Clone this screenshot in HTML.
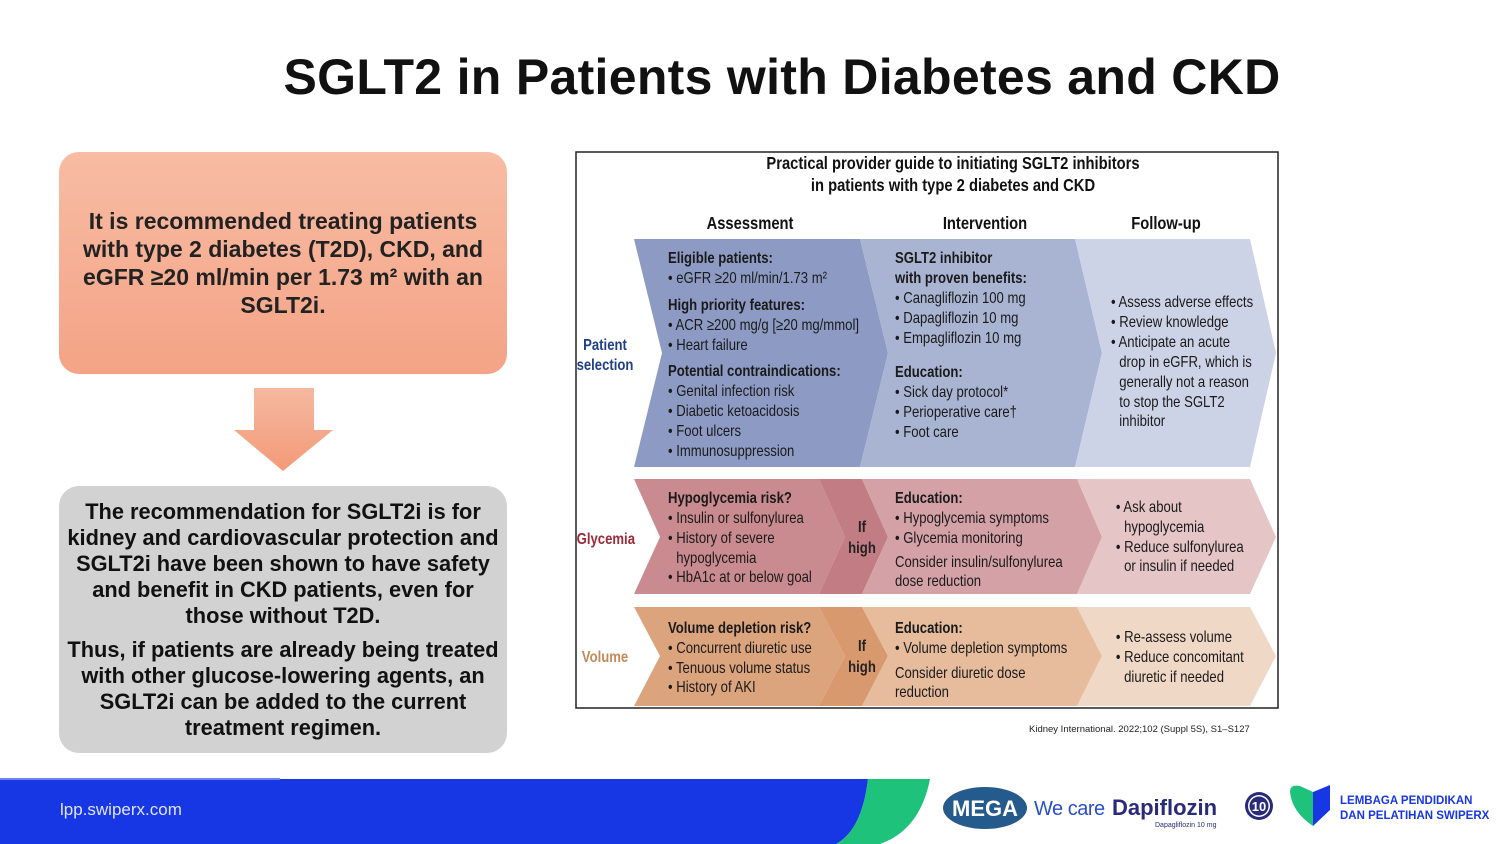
<!DOCTYPE html>
<html><head><meta charset="utf-8"><style>
*{margin:0;padding:0;box-sizing:border-box}
body{width:1500px;height:844px;overflow:hidden;background:#fff;position:relative;font-family:"Liberation Sans",sans-serif}
.title{position:absolute;left:0;width:1564px;top:48px;text-align:center;font-size:50px;font-weight:bold;color:#111;letter-spacing:0.3px}
.box1{position:absolute;left:59px;top:152px;width:448px;height:222px;border-radius:20px;background:linear-gradient(#f7bca3,#f4a386);display:flex;align-items:center;justify-content:center;text-align:center;font-size:23px;font-weight:bold;color:#222;line-height:28px;padding:0 18px}
.box2{position:absolute;left:59px;top:486px;width:448px;height:267px;border-radius:20px;background:#d2d2d2;text-align:center;font-size:21.8px;font-weight:bold;color:#111;line-height:26px;padding:13px 4px 0;letter-spacing:0}
.ref{position:absolute;left:1029px;top:724px;font-size:9.5px;color:#222}
.url{position:absolute;left:60px;top:800px;font-size:17px;color:#dfe4ff}
</style></head><body>
<div class="title">SGLT2 in Patients with Diabetes and CKD</div>
<div class="box1">It is recommended treating patients with type 2 diabetes (T2D), CKD, and eGFR ≥20 ml/min per 1.73 m² with an SGLT2i.</div>
<svg style="position:absolute;left:0;top:0" width="1500" height="844">
<defs><linearGradient id="ar" x1="0" y1="0" x2="0" y2="1"><stop offset="0" stop-color="#f5b9a0"/><stop offset="1" stop-color="#f49a78"/></linearGradient></defs>
<polygon points="254,388 314,388 314,430 333,430 283,471 234,430 254,430" fill="url(#ar)"/>
<path d="M0,779 L868,779 Q862,830 836,844 L0,844 Z" fill="#1736e4"/>
<path d="M868,779 L930,779 Q920,830 880,844 L836,844 Q862,830 868,779 Z" fill="#1ec27b"/>
<path d="M0,779 L280,779" stroke="#6c80f0" stroke-width="2"/>
</svg>
<div class="box2">The recommendation for SGLT2i is for kidney and cardiovascular protection and SGLT2i have been shown to have safety and benefit in CKD patients, even for those without T2D.<div style="height:8px"></div>Thus, if patients are already being treated with other glucose-lowering agents, an SGLT2i can be added to the current treatment regimen.</div>
<div class="url">lpp.swiperx.com</div>

<svg style="position:absolute;left:0;top:0" width="1500" height="844" font-family="Liberation Sans, sans-serif">
<rect x="576" y="152" width="702" height="556" fill="#fff" stroke="#222" stroke-width="1.5"/>
<g font-size="18" font-weight="bold" fill="#111" text-anchor="middle">
<g transform="translate(953,0) scale(0.82,1)"><text x="0" y="169">Practical provider guide to initiating SGLT2 inhibitors</text>
<text x="0" y="191">in patients with type 2 diabetes and CKD</text></g>
<g transform="translate(750,0) scale(0.82,1)"><text x="0" y="229">Assessment</text></g>
<g transform="translate(985,0) scale(0.82,1)"><text x="0" y="229">Intervention</text></g>
<g transform="translate(1166,0) scale(0.82,1)"><text x="0" y="229">Follow-up</text></g>
</g>
<polygon points="634,239 860,239 888,353 860,467 634,467 662,353" fill="#8d9bc4"/>
<polygon points="860,239 1075,239 1102,353 1075,467 860,467 888,353" fill="#a9b4d3"/>
<polygon points="1075,239 1250,239 1276,353 1250,467 1075,467 1102,353" fill="#cdd3e6"/>
<polygon points="634,479 819,479 845,537 819,594 634,594 660,537" fill="#c98b90"/>
<polygon points="819,479 862,479 888,537 862,594 819,594 845,537" fill="#c27c83"/>
<polygon points="862,479 1077,479 1102,537 1077,594 862,594 888,537" fill="#d4a2a6"/>
<polygon points="1077,479 1250,479 1276,537 1250,594 1077,594 1102,537" fill="#e5c5c5"/>
<polygon points="634,607 819,607 845,656 819,706 634,706 660,656" fill="#dca47d"/>
<polygon points="819,607 862,607 888,656 862,706 819,706 845,656" fill="#d8996f"/>
<polygon points="862,607 1077,607 1102,656 1077,706 862,706 888,656" fill="#e6bc9d"/>
<polygon points="1077,607 1250,607 1276,656 1250,706 1077,706 1102,656" fill="#f0d8c7"/>
<g font-size="16" font-weight="bold" text-anchor="middle">
<g transform="translate(605,0) scale(0.82,1)"><text x="0" y="350" fill="#1f3f86">Patient</text><text x="0" y="370" fill="#1f3f86">selection</text>
<text x="1" y="544" fill="#9b2a3a">Glycemia</text>
<text x="0" y="662" fill="#c48a5a">Volume</text></g>
<g transform="translate(862,0) scale(0.82,1)"><text x="0" y="532" fill="#222">If</text><text x="0" y="553" fill="#222">high</text>
<text x="0" y="651" fill="#222">If</text><text x="0" y="672" fill="#222">high</text></g>
</g>
<g font-size="16" fill="#1a1a1a">
<g transform="translate(668,0) scale(0.82,1)">
<text x="0" y="263" font-weight="bold">Eligible patients:</text>
<text x="0" y="283">• eGFR ≥20 ml/min/1.73 m²</text>
<text x="0" y="310" font-weight="bold">High priority features:</text>
<text x="0" y="330">• ACR ≥200 mg/g [≥20 mg/mmol]</text>
<text x="0" y="350">• Heart failure</text>
<text x="0" y="376" font-weight="bold">Potential contraindications:</text>
<text x="0" y="396">• Genital infection risk</text>
<text x="0" y="416">• Diabetic ketoacidosis</text>
<text x="0" y="436">• Foot ulcers</text>
<text x="0" y="456">• Immunosuppression</text>
<text x="0" y="503" font-weight="bold">Hypoglycemia risk?</text>
<text x="0" y="523">• Insulin or sulfonylurea</text>
<text x="0" y="543">• History of severe</text>
<text x="10" y="563">hypoglycemia</text>
<text x="0" y="582">• HbA1c at or below goal</text>
<text x="0" y="633" font-weight="bold">Volume depletion risk?</text>
<text x="0" y="653">• Concurrent diuretic use</text>
<text x="0" y="673">• Tenuous volume status</text>
<text x="0" y="692">• History of AKI</text>
</g>
<g transform="translate(895,0) scale(0.82,1)">
<text x="0" y="263" font-weight="bold">SGLT2 inhibitor</text>
<text x="0" y="283" font-weight="bold">with proven benefits:</text>
<text x="0" y="303">• Canagliflozin 100 mg</text>
<text x="0" y="323">• Dapagliflozin 10 mg</text>
<text x="0" y="343">• Empagliflozin 10 mg</text>
<text x="0" y="377" font-weight="bold">Education:</text>
<text x="0" y="397">• Sick day protocol*</text>
<text x="0" y="417">• Perioperative care†</text>
<text x="0" y="437">• Foot care</text>
<text x="0" y="503" font-weight="bold">Education:</text>
<text x="0" y="523">• Hypoglycemia symptoms</text>
<text x="0" y="543">• Glycemia monitoring</text>
<text x="0" y="567">Consider insulin/sulfonylurea</text>
<text x="0" y="586">dose reduction</text>
<text x="0" y="633" font-weight="bold">Education:</text>
<text x="0" y="653">• Volume depletion symptoms</text>
<text x="0" y="678">Consider diuretic dose</text>
<text x="0" y="697">reduction</text>
</g>
<g transform="translate(1111,0) scale(0.82,1)">
<text x="0" y="307">• Assess adverse effects</text>
<text x="0" y="327">• Review knowledge</text>
<text x="0" y="347">• Anticipate an acute</text>
<text x="10" y="367">drop in eGFR, which is</text>
<text x="10" y="387">generally not a reason</text>
<text x="10" y="407">to stop the SGLT2</text>
<text x="10" y="426">inhibitor</text>
<text x="6" y="512">• Ask about</text>
<text x="16" y="532">hypoglycemia</text>
<text x="6" y="552">• Reduce sulfonylurea</text>
<text x="16" y="571">or insulin if needed</text>
<text x="6" y="642">• Re-assess volume</text>
<text x="6" y="662">• Reduce concomitant</text>
<text x="16" y="682">diuretic if needed</text>
</g>
</g>
<ellipse cx="985" cy="808" rx="42" ry="21" fill="#245a8c"/>
<text x="985" y="816" text-anchor="middle" font-size="22" font-weight="bold" fill="#fff">MEGA</text>
<text x="1034" y="815" font-size="20" fill="#2a4fc7" letter-spacing="-0.5">We care</text>
<text x="1112" y="815" font-size="22" font-weight="bold" fill="#2a2a7a">Dapiflozin</text>
<text x="1155" y="827" font-size="7" fill="#2a2a7a">Dapagliflozin 10 mg</text>
<circle cx="1259" cy="806" r="14" fill="#2a2a7a"/><circle cx="1259" cy="806" r="11" fill="#fff"/><circle cx="1259" cy="806" r="9.5" fill="#2a2a7a"/>
<text x="1259" y="811" text-anchor="middle" font-size="13" font-weight="bold" fill="#fff">10</text>
<path d="M1290,792 Q1290,784 1300,786 L1313,792 L1313,826 Q1292,812 1290,792 Z" fill="#1ec27b"/>
<path d="M1313,792 L1330,785 L1330,810 L1313,826 Z" fill="#1736e4"/>
<text x="1340" y="804" font-size="11.5" font-weight="bold" fill="#1736e4">LEMBAGA PENDIDIKAN</text>
<text x="1340" y="819" font-size="11.5" font-weight="bold" fill="#1736e4">DAN PELATIHAN SWIPERX</text>
</svg>
<div class="ref">Kidney International. 2022;102 (Suppl 5S), S1–S127</div>
</body></html>
